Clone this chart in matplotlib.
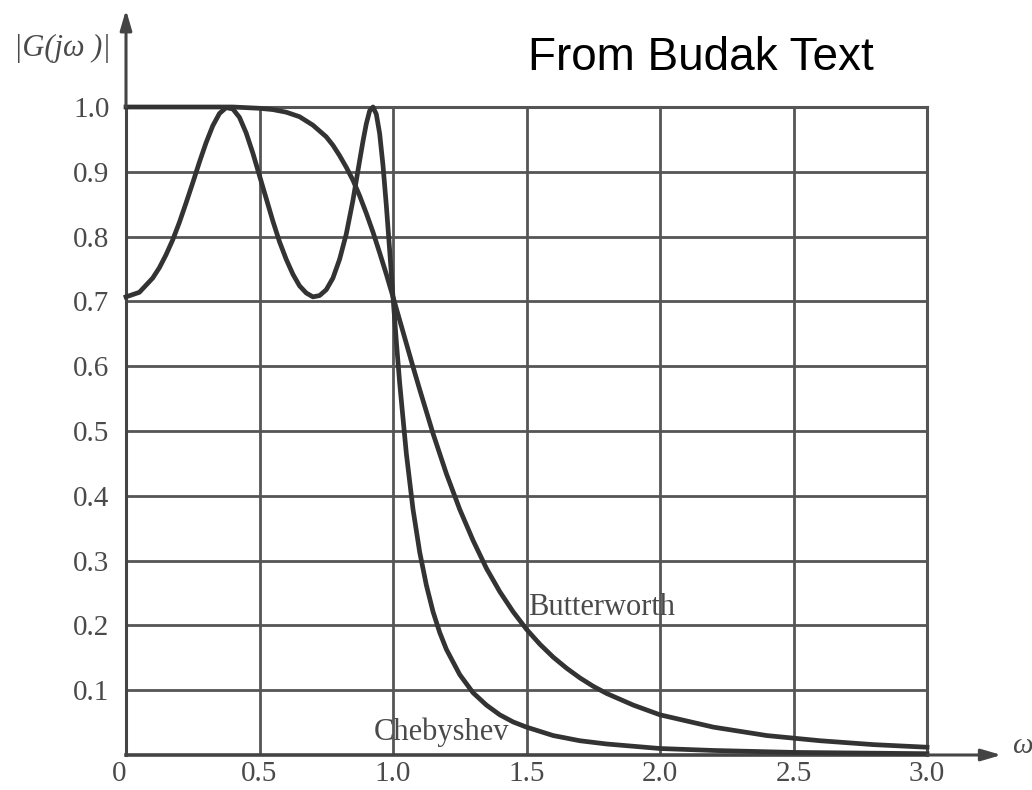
import matplotlib
matplotlib.use("Agg")
import matplotlib.pyplot as plt

# Normalised frequency samples and magnitudes, 4th-order low-pass responses
cheb_w = [0.0, 0.05, 0.1, 0.125, 0.15, 0.175, 0.2, 0.225, 0.25, 0.275, 0.3,
          0.325, 0.35, 0.375, 0.4, 0.425, 0.45, 0.475, 0.5, 0.525, 0.55, 0.575,
          0.6, 0.625, 0.65, 0.675, 0.7, 0.725, 0.75, 0.775, 0.8, 0.825, 0.85,
          0.875, 0.8875, 0.9, 0.9125, 0.925, 0.9375, 0.95, 0.9625, 0.975,
          0.9875, 1.0, 1.0125, 1.025, 1.05, 1.075, 1.1, 1.125, 1.15, 1.175,
          1.2, 1.25, 1.3, 1.35, 1.4, 1.45, 1.5, 1.6, 1.7, 1.8, 2.0, 2.2, 2.5,
          3.0]
cheb_g = [0.707, 0.714, 0.736, 0.752, 0.772, 0.795, 0.822, 0.852, 0.883, 0.915,
          0.945, 0.971, 0.990, 0.999, 0.997, 0.984, 0.960, 0.929, 0.894, 0.859,
          0.824, 0.792, 0.765, 0.742, 0.724, 0.713, 0.707, 0.709, 0.718, 0.736,
          0.765, 0.804, 0.856, 0.917, 0.947, 0.974, 0.994, 1.000, 0.989, 0.959,
          0.910, 0.848, 0.779, 0.707, 0.638, 0.574, 0.465, 0.379, 0.313, 0.262,
          0.221, 0.189, 0.163, 0.124, 0.096, 0.077, 0.062, 0.051, 0.043, 0.030,
          0.022, 0.017, 0.010, 0.007, 0.004, 0.002]

butter_w = [0.0, 0.3, 0.4, 0.5, 0.55, 0.6, 0.65, 0.7, 0.75, 0.775, 0.8, 0.825,
            0.85, 0.875, 0.9, 0.925, 0.95, 0.975, 1.0, 1.025, 1.05, 1.075, 1.1,
            1.125, 1.15, 1.175, 1.2, 1.25, 1.3, 1.35, 1.4, 1.45, 1.5, 1.55, 1.6,
            1.65, 1.7, 1.75, 1.8, 1.9, 2.0, 2.2, 2.4, 2.6, 2.8, 3.0]
butter_g = [1.000, 1.000, 1.000, 0.998, 0.996, 0.992, 0.985, 0.972, 0.954,
            0.941, 0.925, 0.907, 0.887, 0.863, 0.836, 0.807, 0.775, 0.742,
            0.707, 0.671, 0.635, 0.599, 0.564, 0.530, 0.496, 0.465, 0.434,
            0.379, 0.331, 0.288, 0.252, 0.221, 0.194, 0.171, 0.151, 0.134,
            0.119, 0.106, 0.095, 0.077, 0.062, 0.043, 0.030, 0.022, 0.016,
            0.012]

x_ticks = [0.0, 0.5, 1.0, 1.5, 2.0, 2.5, 3.0]
x_labels = ["0", "0.5", "1.0", "1.5", "2.0", "2.5", "3.0"]
y_ticks = [0.1, 0.2, 0.3, 0.4, 0.5, 0.6, 0.7, 0.8, 0.9, 1.0]
y_labels = ["0.1", "0.2", "0.3", "0.4", "0.5", "0.6", "0.7", "0.8", "0.9", "1.0"]

W, H = 1032, 790
fig = plt.figure(figsize=(W / 100, H / 100), dpi=100)
ax = fig.add_axes([126 / W, 1 - 755 / H, (927 - 126) / W, (755 - 107) / H])

grid_col = "#555555"
curve_col = "#333333"
text_col = "#4a4a4a"
serif = ["Liberation Serif", "DejaVu Serif"]

ax.set_xlim(0, 3.0)
ax.set_ylim(0, 1.0)
ax.set_xticks(x_ticks)
ax.set_xticklabels(x_labels, fontfamily=serif, fontsize=21, color=text_col)
ax.set_yticks(y_ticks)
ax.set_yticklabels(y_labels, fontfamily=serif, fontsize=21, color=text_col)
ax.tick_params(axis="x", length=0, pad=4)
ax.tick_params(axis="y", length=0, pad=12)
for lbl in ax.get_xticklabels()[:1]:
    lbl.set_horizontalalignment("right")

for sp in ax.spines.values():
    sp.set_color(grid_col)
    sp.set_linewidth(2.2)
ax.spines["left"].set_color("#444444")
ax.spines["bottom"].set_color("#444444")
ax.spines["bottom"].set_linewidth(2.6)

for xv in x_ticks[1:-1]:
    ax.axvline(xv, color=grid_col, lw=2.0, zorder=1)
for yv in y_ticks[:-1]:
    ax.axhline(yv, color=grid_col, lw=2.0, zorder=1)

ax.plot(cheb_w, cheb_g, color=curve_col, lw=3.4, zorder=3,
        solid_joinstyle="round", clip_on=False)
ax.plot(butter_w, butter_g, color=curve_col, lw=3.4, zorder=3,
        solid_joinstyle="round", clip_on=False)

# Curve labels
ax.text(1.505, 0.205, "Butterworth", fontfamily=serif, fontsize=22,
        color=text_col, ha="left", va="bottom")
ax.text(1.18, 0.012, "Chebyshev", fontfamily=serif, fontsize=22,
        color=text_col, ha="center", va="bottom")

# Axis arrows extending past the plotted region
ax.annotate("", xy=(0, 1.15), xytext=(0, 1.0), xycoords="axes fraction",
            arrowprops=dict(arrowstyle="-|>,head_length=1.2,head_width=0.35",
                            color="#444444", lw=2.2, shrinkA=0, shrinkB=0))
ax.annotate("", xy=(1.093, 0.0), xytext=(1.0, 0.0), xycoords="axes fraction",
            arrowprops=dict(arrowstyle="-|>,head_length=1.2,head_width=0.35",
                            color="#444444", lw=2.2, shrinkA=0, shrinkB=0))

fig.text(14 / W, 1 - 48 / H, "|G(jω )|", fontfamily=serif, fontstyle="italic",
         fontsize=22, color=text_col, ha="left", va="center")
fig.text(1012 / W, 1 - 746 / H, "ω", fontfamily=serif, fontstyle="italic",
         fontsize=21, color=text_col, ha="left", va="center")

fig.text(701 / W, 1 - 70 / H, "From Budak Text", fontfamily="Liberation Sans",
         fontsize=33, color="black", ha="center", va="baseline")

fig.savefig("out.png", dpi=100, facecolor="white")
